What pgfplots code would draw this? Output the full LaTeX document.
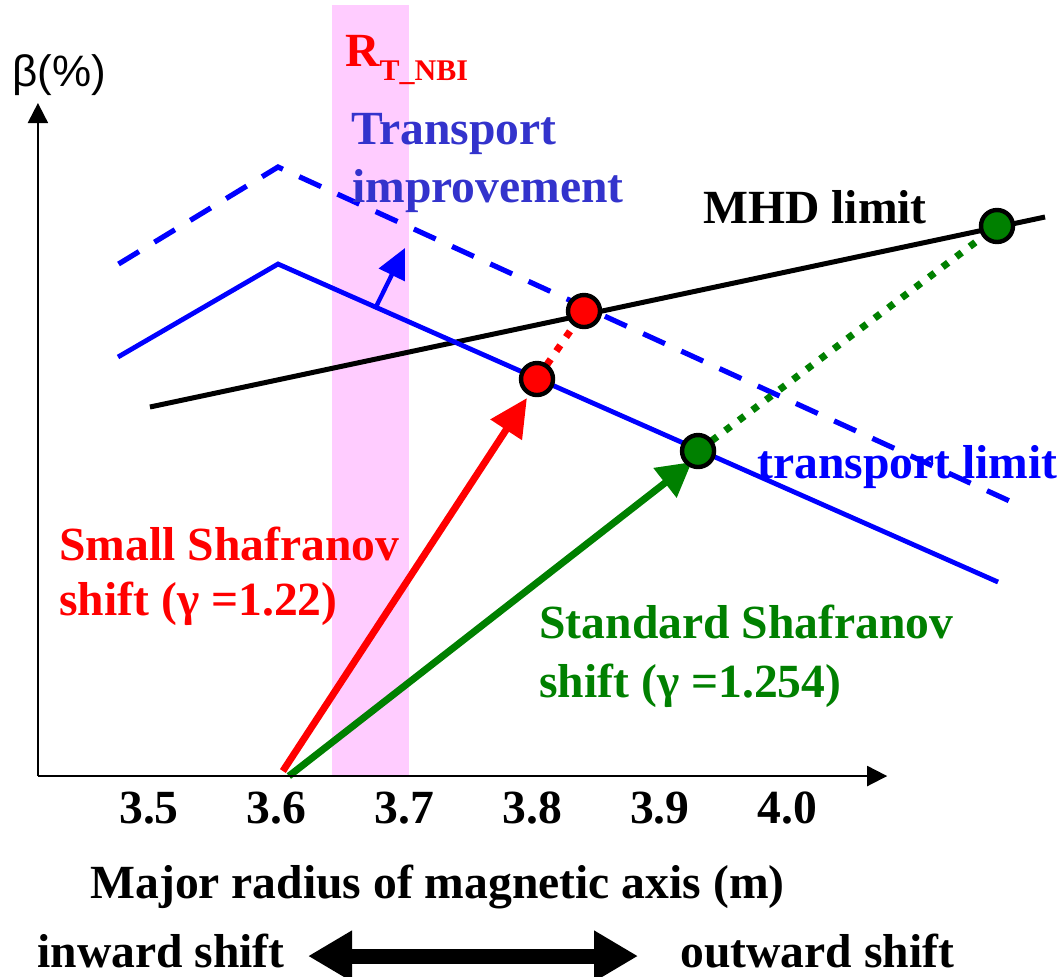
\documentclass[border=0pt]{standalone}
\usepackage{pgfplots}
\pgfplotsset{compat=1.18}
\usetikzlibrary{arrows.meta}
\usepackage{fontspec}
\setmainfont{Liberation Serif}
\newfontfamily\sansf{Liberation Sans}
\definecolor{tblue}{RGB}{0,0,255}
\definecolor{impblue}{RGB}{51,51,204}
\definecolor{dgreen}{RGB}{0,128,0}
\definecolor{pinkband}{RGB}{255,204,255}
\newcommand{\bigfont}{\fontsize{23.8}{28}\selectfont\bfseries}

\begin{document}
\begin{tikzpicture}
\begin{axis}[
  x=638.5pt, y=50pt,
  xmin=3.413, xmax=4.078, ymin=0, ymax=6.73,
  axis lines=left,
  axis line style={line width=1pt, -{Triangle[length=10pt,width=10pt]}},
  xtick={3.5,3.6,3.7,3.8,3.9,4.0},
  xticklabels={3.5,3.6,3.7,3.8,3.9,4.0},
  ytick=\empty,
  major tick length=0pt,
  xticklabel style={font=\bigfont, anchor=base, yshift=-23.5pt},
  clip=false,
  axis on top,
]
% pink R_T_NBI band
\addplot[fill=pinkband, draw=none] coordinates {(3.6432,7.71) (3.7035,7.71)} \closedcycle;

% MHD limit
\addplot[black, line width=2.5pt] coordinates {(3.5007,3.69) (4.2016,5.59)};
% transport limit (solid)
\addplot[tblue, line width=2.4pt] coordinates {(3.4757,4.19) (3.6010,5.12) (4.1648,1.94)};
% improved transport limit (dashed)
\addplot[tblue, line width=2.6pt, dash pattern=on 12pt off 9pt] coordinates {(3.4761,5.12) (3.6010,6.09) (4.1773,2.73)};
% transport improvement arrow
\addplot[tblue, line width=2.2pt, -{Triangle[length=15pt,width=14pt]}] coordinates {(3.6769,4.67) (3.7004,5.28)};

% dotted connections
\addplot[red, line width=3.5pt, dash pattern=on 3.5pt off 5pt] coordinates {(3.8038,3.97) (3.8406,4.65)};
\addplot[dgreen, line width=3.5pt, dash pattern=on 3.5pt off 5pt] coordinates {(3.9299,3.25) (4.1640,5.50)};

% shift arrows
\addplot[red, line width=3.5pt, -{Triangle[length=19pt,width=18pt]}] coordinates {(3.6048,0.05) (3.7959,3.78)};
\addplot[dgreen, line width=3.5pt, -{Triangle[length=17pt,width=18pt]}] coordinates {(3.6095,0.0) (3.9250,3.14)};

% operating points
\addplot[only marks, mark=*, mark size=8pt, mark options={fill=red, draw=black, line width=2.2pt}] coordinates {(3.8038,3.97) (3.8406,4.65)};
\addplot[only marks, mark=*, mark size=8pt, mark options={fill=dgreen, draw=black, line width=2.2pt}] coordinates {(3.9299,3.25) (4.1640,5.50)};

% inward/outward double arrow
\addplot[black, line width=7.5pt, {Triangle[length=22pt,width=24pt]}-{Triangle[length=22pt,width=24pt]}] coordinates {(3.6245,-1.80) (3.8829,-1.80)};

% texts
\node[anchor=center, font={\sansf\fontsize{22}{26}\selectfont}] at (axis cs:3.4295,7.01) {β(\%)};
\node[anchor=base west, inner sep=0pt, red, font=\bigfont] at (axis cs:3.6534,7.09) {R\raisebox{-6.5pt}{\fontsize{15}{18}\selectfont T\_NBI}};
\node[anchor=base west, inner sep=0pt, impblue, font=\bigfont] at (axis cs:3.6580,6.32) {Transport};
\node[anchor=base west, inner sep=0pt, impblue, font=\bigfont] at (axis cs:3.6588,5.74) {improvement};
\node[anchor=base west, inner sep=0pt, black, font=\bigfont] at (axis cs:3.9338,5.53) {MHD limit};
\node[anchor=base west, inner sep=0pt, tblue, font=\bigfont] at (axis cs:3.9761,2.98) {transport limit};
\node[anchor=base west, inner sep=0pt, red, font=\bigfont] at (axis cs:3.4295,2.16) {Small Shafranov};
\node[anchor=base west, inner sep=0pt, red, font=\bigfont] at (axis cs:3.4295,1.61) {shift (γ =1.22)};
\node[anchor=base west, inner sep=0pt, dgreen, font=\bigfont] at (axis cs:3.8054,1.38) {Standard Shafranov};
\node[anchor=base west, inner sep=0pt, dgreen, font=\bigfont] at (axis cs:3.8054,0.79) {shift (γ =1.254)};
\node[anchor=base west, inner sep=0pt, black, font=\bigfont] at (axis cs:3.4538,-1.22) {Major radius of magnetic axis (m)};
\node[anchor=base west, inner sep=0pt, black, font=\bigfont] at (axis cs:3.4123,-1.91) {inward shift};
\node[anchor=base west, inner sep=0pt, black, font=\bigfont] at (axis cs:3.9158,-1.91) {outward shift};

\coordinate (bbBL) at (axis cs:3.3833,-2.00);
\coordinate (bbTR) at (axis cs:4.2141,7.76);
\end{axis}
\pgfresetboundingbox
\path[use as bounding box] (bbBL) rectangle (bbTR);
\end{tikzpicture}
\end{document}
